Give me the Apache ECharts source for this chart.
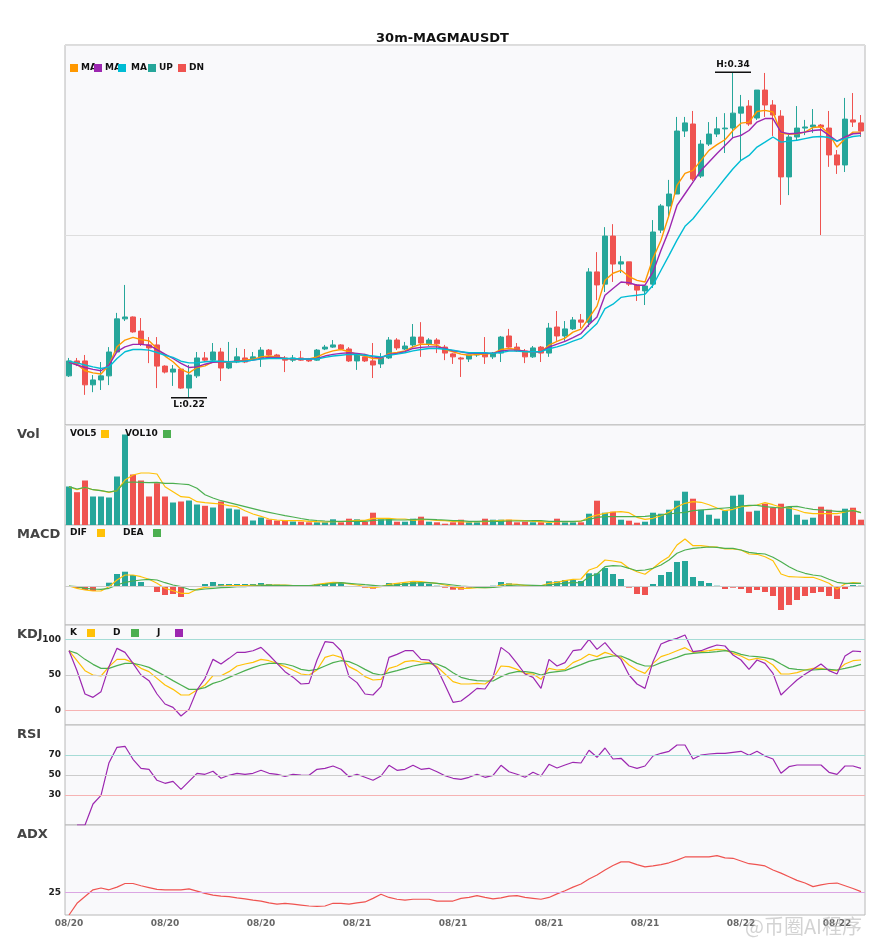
<!DOCTYPE html>
<html>
<head>
<meta charset="utf-8">
<title>30m-MAGMAUSDT</title>
<script src="https://cdn.jsdelivr.net/npm/echarts@6/dist/echarts.min.js"></script>
<style>
  html, body { margin: 0; padding: 0; background: #fff; }
  #chart { width: 885px; height: 950px; }
</style>
</head>
<body>
<div id="chart"></div>
<script>
// 30 minute candles, first one at 08/20 07:30
var startTime = Date.UTC(2025, 7, 20, 7, 30);
var stepMs = 30 * 60 * 1000;
var candleCount = 100;

// [open, close, low, high]
var candles = [
  [0.2281,0.2336,0.2277,0.2347],[0.2336,0.2325,0.2317,0.2347],[0.2336,0.2248,0.2211,0.2358],[0.2248,0.2266,0.2221,0.2284],
  [0.2266,0.2281,0.2229,0.2332],[0.2281,0.2369,0.2247,0.2387],[0.2369,0.2491,0.2365,0.2513],[0.2491,0.2498,0.2483,0.2616],
  [0.2498,0.2443,0.2440,0.2500],[0.2446,0.2398,0.2391,0.2494],[0.2395,0.2384,0.2328,0.2424],[0.2395,0.2317,0.2236,0.2424],
  [0.2317,0.2295,0.2290,0.2320],[0.2295,0.2306,0.2244,0.2321],[0.2306,0.2236,0.2233,0.2310],[0.2236,0.2284,0.2200,0.2321],
  [0.2281,0.2347,0.2273,0.2369],[0.2347,0.2339,0.2332,0.2369],[0.2339,0.2369,0.2336,0.2402],[0.2369,0.2310,0.2262,0.2384],
  [0.2310,0.2328,0.2306,0.2406],[0.2332,0.2351,0.2328,0.2384],[0.2347,0.2332,0.2328,0.2380],[0.2343,0.2351,0.2339,0.2369],
  [0.2347,0.2376,0.2314,0.2387],[0.2376,0.2358,0.2354,0.2380],[0.2358,0.2347,0.2343,0.2362],[0.2347,0.2339,0.2295,0.2354],
  [0.2339,0.2347,0.2332,0.2358],[0.2347,0.2339,0.2336,0.2373],[0.2343,0.2336,0.2332,0.2347],[0.2339,0.2376,0.2336,0.2380],
  [0.2380,0.2387,0.2376,0.2395],[0.2387,0.2395,0.2384,0.2413],[0.2395,0.2380,0.2376,0.2398],[0.2380,0.2336,0.2332,0.2387],
  [0.2336,0.2358,0.2303,0.2365],[0.2351,0.2336,0.2332,0.2362],[0.2336,0.2321,0.2273,0.2402],[0.2325,0.2347,0.2310,0.2365],
  [0.2347,0.2413,0.2343,0.2424],[0.2413,0.2384,0.2376,0.2420],[0.2380,0.2391,0.2376,0.2406],[0.2395,0.2424,0.2387,0.2472],
  [0.2424,0.2402,0.2351,0.2479],[0.2399,0.2413,0.2391,0.2420],[0.2413,0.2399,0.2365,0.2420],[0.2387,0.2365,0.2339,0.2395],
  [0.2362,0.2351,0.2325,0.2365],[0.2347,0.2343,0.2277,0.2351],[0.2343,0.2358,0.2332,0.2358],[0.2358,0.2365,0.2351,0.2369],
  [0.2365,0.2351,0.2325,0.2424],[0.2351,0.2365,0.2343,0.2369],[0.2365,0.2424,0.2332,0.2428],[0.2428,0.2387,0.2384,0.2454],
  [0.2387,0.2373,0.2369,0.2402],[0.2373,0.2351,0.2328,0.2380],[0.2351,0.2384,0.2347,0.2391],[0.2387,0.2365,0.2332,0.2391],
  [0.2365,0.2457,0.2351,0.2476],[0.2461,0.2428,0.2410,0.2520],[0.2428,0.2454,0.2410,0.2483],[0.2454,0.2487,0.2450,0.2498],
  [0.2487,0.2479,0.2457,0.2509],[0.2479,0.2664,0.2461,0.2678],[0.2664,0.2616,0.2560,0.2737],[0.2619,0.2796,0.2590,0.2829],
  [0.2796,0.2693,0.2627,0.2840],[0.2693,0.2701,0.2660,0.2723],[0.2701,0.2619,0.2612,0.2701],[0.2616,0.2597,0.2557,0.2619],
  [0.2594,0.2612,0.2542,0.2616],[0.2619,0.2811,0.2605,0.2855],[0.2818,0.2907,0.2807,0.2914],[0.2907,0.2951,0.2866,0.3003],
  [0.2951,0.3183,0.2951,0.3235],[0.3183,0.3213,0.3161,0.3235],[0.3209,0.3006,0.2999,0.3257],[0.3017,0.3135,0.3010,0.3150],
  [0.3135,0.3172,0.3128,0.3216],[0.3172,0.3191,0.3161,0.3235],[0.3191,0.3194,0.3102,0.3249],[0.3194,0.3249,0.3157,0.3400],
  [0.3249,0.3272,0.3076,0.3316],[0.3275,0.3209,0.3202,0.3297],[0.3231,0.3334,0.3224,0.3334],[0.3334,0.3279,0.3235,0.3397],
  [0.3279,0.3242,0.3165,0.3297],[0.3238,0.3014,0.2911,0.3260],[0.3014,0.3161,0.2947,0.3176],[0.3161,0.3194,0.3150,0.3275],
  [0.3194,0.3198,0.3168,0.3224],[0.3198,0.3205,0.3176,0.3264],[0.3205,0.3198,0.2800,0.3209],[0.3194,0.3095,0.3051,0.3257],
  [0.3095,0.3058,0.3025,0.3113],[0.3058,0.3227,0.3032,0.3305],[0.3224,0.3216,0.3198,0.3323],[0.3213,0.3183,0.3161,0.3242]
];

var ma5 = [
  0.2331,0.2324,0.2300,0.2292,0.2288,0.2321,0.2388,0.2413,0.2423,0.2415,
  0.2410,0.2382,0.2354,0.2333,0.2305,0.2292,0.2312,0.2318,0.2333,0.2333,
  0.2331,0.2335,0.2339,0.2342,0.2351,0.2354,0.2351,0.2345,0.2343,0.2343,
  0.2343,0.2351,0.2364,0.2373,0.2378,0.2370,0.2360,0.2354,0.2345,0.2345,
  0.2364,0.2367,0.2373,0.2388,0.2398,0.2397,0.2394,0.2378,0.2370,0.2361,
  0.2357,0.2360,0.2361,0.2364,0.2378,0.2382,0.2378,0.2370,0.2370,0.2370,
  0.2394,0.2408,0.2420,0.2442,0.2453,0.2495,0.2538,0.2633,0.2659,0.2670,
  0.2647,0.2633,0.2627,0.2714,0.2781,0.2873,0.2983,0.3027,0.3038,0.3075,
  0.3112,0.3133,0.3151,0.3185,0.3212,0.3216,0.3255,0.3259,0.3253,0.3176,
  0.3171,0.3173,0.3179,0.3196,0.3199,0.3173,0.3124,0.3155,0.3179,0.3179
];
var ma10 = [
  0.2331,0.2321,0.2312,0.2305,0.2300,0.2321,0.2370,0.2388,0.2397,0.2397,
  0.2394,0.2378,0.2361,0.2345,0.2327,0.2312,0.2314,0.2324,0.2331,0.2333,
  0.2333,0.2335,0.2335,0.2339,0.2345,0.2349,0.2349,0.2345,0.2344,0.2343,
  0.2343,0.2345,0.2354,0.2360,0.2364,0.2366,0.2364,0.2360,0.2351,0.2347,
  0.2360,0.2364,0.2370,0.2382,0.2386,0.2388,0.2388,0.2382,0.2373,0.2370,
  0.2364,0.2364,0.2364,0.2364,0.2372,0.2376,0.2376,0.2372,0.2370,0.2370,
  0.2387,0.2398,0.2408,0.2422,0.2437,0.2470,0.2498,0.2578,0.2603,0.2627,
  0.2624,0.2615,0.2615,0.2664,0.2744,0.2817,0.2909,0.2952,0.2995,0.3038,
  0.3069,0.3100,0.3130,0.3159,0.3167,0.3185,0.3216,0.3229,0.3229,0.3179,
  0.3173,0.3175,0.3179,0.3185,0.3188,0.3167,0.3146,0.3161,0.3173,0.3175
];
var ma20 = [
  0.2335,0.2329,0.2321,0.2314,0.2308,0.2314,0.2345,0.2370,0.2378,0.2378,
  0.2376,0.2367,0.2357,0.2349,0.2335,0.2329,0.2329,0.2333,0.2335,0.2335,
  0.2333,0.2333,0.2335,0.2339,0.2343,0.2345,0.2345,0.2345,0.2345,0.2343,
  0.2343,0.2343,0.2349,0.2354,0.2357,0.2360,0.2360,0.2357,0.2354,0.2351,
  0.2357,0.2361,0.2366,0.2373,0.2378,0.2382,0.2382,0.2379,0.2376,0.2370,
  0.2366,0.2366,0.2366,0.2364,0.2367,0.2372,0.2372,0.2370,0.2370,0.2370,
  0.2381,0.2388,0.2397,0.2409,0.2419,0.2446,0.2474,0.2529,0.2545,0.2570,
  0.2575,0.2578,0.2582,0.2615,0.2670,0.2725,0.2781,0.2832,0.2860,0.2897,
  0.2934,0.2971,0.3008,0.3044,0.3075,0.3093,0.3124,0.3142,0.3161,0.3142,
  0.3146,0.3149,0.3155,0.3161,0.3163,0.3159,0.3146,0.3155,0.3163,0.3166
];

// volume in thousands
var volume = [
  385,328,445,285,285,275,485,905,505,445, 285,418,285,225,235,245,205,192,175,235,
  165,155,85,45,75,55,45,45,35,33, 27,27,27,57,27,63,57,33,123,57,
  57,33,33,63,83,33,27,13,27,53, 27,27,63,53,53,53,27,33,27,27,
  20,63,27,27,27,113,243,123,133,53, 43,23,33,123,113,153,243,333,263,153,
  103,63,143,293,303,133,143,213,173,213, 183,103,53,73,183,153,93,163,173,53
];
var vol5 = [
  383,353,377,353,343,327,343,450,500,520, 520,510,383,333,283,277,233,223,217,210,
  193,183,143,110,87,60,50,43,43,43, 37,33,30,33,33,40,47,47,67,67,
  67,60,60,47,53,53,47,43,37,30, 30,33,33,40,47,50,47,43,37,33,
  27,33,33,33,38,77,100,117,130,133, 123,77,57,67,93,127,183,217,233,227,
  203,170,143,157,183,190,200,223,203,177, 170,150,123,113,113,113,113,130,150,123
];
var vol10 = [
  383,360,377,353,343,330,343,427,430,427, 423,427,417,417,410,403,367,303,270,243,
  223,203,183,163,143,127,110,93,80,65, 52,45,40,37,37,37,37,37,47,50,
  53,50,50,53,60,57,53,50,43,43, 37,37,40,37,37,40,40,40,43,43,
  37,37,37,37,40,57,77,83,83,83, 83,83,87,93,100,110,120,127,143,150,
  157,163,170,177,190,197,197,183,177,170, 183,187,170,157,150,143,137,137,143,123
];

// MACD values in units of 1e-4
var dif = [
  0,-2.3,-4,-5,-5,-0.7,6,11,11,9.3, 6.7,2.7,-2.3,-4.7,-7.3,-7.3,-3.3,-1.3,-0.7,0,
  0.3,0.3,0.3,0.7,0.7,1,1,1,0.3,0, 0,1.7,2.7,3.7,3.3,2,1,-0.7,-1.7,-0.7,
  1.7,2.7,3.7,4.7,4.3,3.3,2.7,1,-0.7,-2.3, -2.3,-1.7,-1.7,-1.3,1,2,1.7,0.3,0.3,0.3,
  2.7,3.7,5.3,6.7,7,16,18.7,26,25,23.7, 17.7,14.3,11.7,17.7,24.3,29.3,41,47,40.3,40.3,
  39.3,39,37,37,36,32,31.7,29.3,25.3,12, 9.3,9,8.7,8.7,6,2.7,-3,2,3.3,2.7
];
var dea = [
  0,-0.7,-2.3,-3,-3.3,-2.3,1,3.7,5,6, 6.7,6,3.3,1,-0.7,-3.3,-4,-3,-2.3,-1.7,
  -1.3,-0.7,-0.7,0,0.3,0.7,0.7,0.7,0.3,0.3, 0.3,1,1.7,2.7,3.3,2.7,2,1.3,0.7,0,
  0.3,1,2,2.7,3.3,3.3,2.7,2,1,0, -0.7,-1.3,-1.7,-1.3,-0.7,0.3,1,1,0.7,0.3,
  1,2,2.7,3.7,3,9.3,12,19.3,20.3,20, 17.7,15.3,16,17.7,21,26,32.7,36,37.7,38.3,
  39,38.7,37.7,37.7,36,33.7,32.7,32,28.7,24.3, 19.3,15.3,12.7,11,10,6.7,3.7,2.7,2.7,2.7
];
var macdHist = [
  0,-2,-4,-5,-1,3.3,12,14.3,11,4, 0,-6,-9,-8,-11,-0.5,-0.7,2,4,2,
  2,2,2,2,3,2,1.3,1,1,0.5, 0.5,2,2.7,3.3,3.3,-0.7,-0.7,-1.7,-2.7,-0.3,
  3,3,3,4.3,3.7,2.3,0.3,-1.7,-3.7,-3.7, -1.7,-0.3,-1.3,0.3,4,2.7,0.3,-0.3,0.3,0.3,
  4.7,4.7,6,6,5,12.7,12.7,18,12,7, -1.7,-8,-9,2,11,14,24,25,9,5,
  3,0.3,-3,-1.7,-3,-7,-4,-6,-10,-24, -19,-14,-10,-7,-6,-10,-13,-3,1,0.3
];

var kLine = [
  84,70,56,50,48.6,61.7,71.9,71.9,67.3,59.3, 54.7,45.3,36,29.9,22,22,29,36,49,49,
  54.7,62.6,65.4,67.7,71.9,70,66.3,61.7,57,51.4, 50,57,74.7,78,74.7,61.7,56.1,47.7,43,43.9,
  59.3,62.6,68.7,70,68.2,67.3,61.7,51.4,40.7,37.4, 37.4,38.3,37.4,45.3,62.6,61.7,57.9,52.3,51.4,43.9,
  59.3,57,57.9,67.3,72,79,75.7,81.7,78,74.7, 64,57,52.3,66.3,75.7,79.4,84,88.3,81.7,82.7,
  84,85.9,85,80.3,76.6,71,73.3,71,64,51.4, 51.4,53.3,57,59.3,59.3,57,56.1,65.4,70,71
];
var dLine = [
  84,80.3,71.9,64.9,59.3,59.3,63.1,66.3,66.3,64, 60.7,54.7,48.6,42.1,36,29.9,29.9,32.3,38.3,41.6,
  46.7,51.4,56.1,60.3,64,66.3,66.3,65.4,62.6,57.9, 56.1,57.9,62.6,67.3,70,68.7,64,57.9,52.3,50,
  53.3,56.1,59.3,62.6,64.9,66.3,65.4,60.7,53.3,46.7, 43.9,42.1,41.6,41.6,47.7,52.3,54.7,54.7,53.3,50,
  53.3,54.7,56.1,60.3,64.5,69,71.9,74.7,76.6,76.6, 71.9,66.3,62.6,62.6,67.3,71,74.7,78.9,80.3,81.3,
  81.7,82.7,84,82.7,78.9,76.6,75.7,74.3,71.9,65.4, 59.3,57.9,57,57,57.9,57.9,57,59.3,61.7,64.9
];
var jLine = [
  84,56,23.4,18.7,26.7,61.7,87.3,81.7,66.3,50, 42.1,23.4,9.4,4.7,-7.4,1.9,29,45.3,71.9,65.4,
  73.3,81.7,81.7,84,88.7,78,66.3,54.7,47,37.4, 38.3,71,96.7,95.3,84,47.7,39.3,23.4,22,33.7,
  74.7,78.9,84,84,71.9,71,59.3,36,11.7,13.6, 22,31.3,30.4,46.7,88.7,80.3,66.3,51.4,46.7,31.3,
  71.9,62.6,67.3,84,85.5,99.9,85.9,95.3,81.7,71.9, 50,37.4,31.3,68.7,93.4,98.1,101.3,106,82.7,84,
  88.3,92,90.6,78,71,57.9,71,66.3,52.3,22, 32.7,43,50.9,57.9,65.4,56.1,51.4,76.6,83.6,82.7
];

var rsi = [
  null,0,0,21,29.7,62.3,77.7,78.7,65.7,56.7, 55.7,44.7,41.7,43.7,35.7,43.7,51.7,50.7,53.7,46.7,
  49.7,51.7,50.7,51.7,54.7,51.7,50.7,48.7,50.7,50, 49.7,55.7,56.7,59,55.7,48.3,50.7,47.7,44.7,49,
  59.7,54.7,55.7,59.7,55.7,56.7,53.3,49.3,46.7,45.7, 47.7,50.7,47.7,49.7,59.7,53.3,50.7,47.7,52.7,49,
  60.7,57,60,62.7,62,74.7,67.7,77,66,66.7, 59,56.7,59,69,71.7,73.7,80,80,66,70,
  71,71.7,71.7,72.7,73.7,69.7,73.7,69,66,51.7, 58.3,60,60,60,60,52.7,50.7,59,59,56.7
];

var adx = [
  20,22.6,24.1,25.6,26,25.6,26.2,27,27,26.5, 26.1,25.7,25.6,25.6,25.6,25.8,25.3,24.8,24.4,24.2,
  24.1,23.8,23.6,23.3,23.1,22.7,22.4,22.6,22.4,22.2, 22,21.9,22,22.6,22.6,22.4,22.7,22.9,23.7,24.6,
  23.9,23.5,23.3,23.5,23.5,23.5,23.1,23.1,23.1,23.7, 23.9,24.3,23.9,23.6,23.8,24.2,24.3,23.9,23.7,23.5,
  23.9,24.7,25.4,26.2,26.9,28,28.9,30,31,31.8, 31.8,31.2,30.7,30.9,31.2,31.6,32.2,32.9,32.9,32.9,
  32.9,33.2,32.7,32.6,32,31.4,31.2,30.9,30,29.3, 28.5,27.7,27.1,26.3,26.7,27,27.1,26.5,25.9,25.2
];

var kdjTicks = [0, 50, 100];
var rsiTicks = [30, 50, 70];
var adxTicks = [25];

var UP = '#26a69a';
var DOWN = '#ef5350';
var FONT = 'DejaVu Sans';

function pad(n) {
  return n < 10 ? '0' + n : '' + n;
}

var categories = [];
for (var i = 0; i < candleCount; i += 1) {
  var d = new Date(startTime + i * stepMs);
  categories.push(pad(d.getUTCMonth() + 1) + '/' + pad(d.getUTCDate()) + ' ' +
    pad(d.getUTCHours()) + ':' + pad(d.getUTCMinutes()));
}

var hiIdx = 0;
var loIdx = 0;
candles.forEach(function (c, idx) {
  if (c[3] > candles[hiIdx][3]) hiIdx = idx;
  if (c[2] < candles[loIdx][2]) loIdx = idx;
});
var hiVal = candles[hiIdx][3];
var loVal = candles[loIdx][2];

var panels = [
  { top: 45, height: 380 },
  { top: 425, height: 100 },
  { top: 525, height: 100 },
  { top: 625, height: 100 },
  { top: 725, height: 100 },
  { top: 825, height: 90 }
];

var grids = panels.map(function (p) {
  return {
    left: 65,
    right: 20,
    top: p.top,
    height: p.height,
    show: true,
    backgroundColor: '#f9f9fb',
    borderColor: '#b8b8b8',
    borderWidth: 1
  };
});

var xAxes = panels.map(function (p, idx) {
  var last = idx === panels.length - 1;
  return {
    type: 'category',
    gridIndex: idx,
    data: categories,
    boundaryGap: true,
    axisLine: { show: false },
    axisTick: { show: false },
    splitLine: { show: false },
    axisLabel: {
      show: last,
      interval: 11,
      margin: 4,
      color: '#666',
      fontWeight: 'bold',
      fontSize: 9,
      fontFamily: FONT,
      formatter: function (v) { return v.slice(0, 5); }
    }
  };
});

function plainY(idx, min, max) {
  return {
    type: 'value',
    gridIndex: idx,
    min: min,
    max: max,
    axisLine: { show: false },
    axisTick: { show: false },
    axisLabel: { show: false },
    splitLine: { show: false }
  };
}

function tickY(idx, min, max, ticks) {
  var axis = plainY(idx, min, max);
  axis.axisLabel = {
    show: true,
    customValues: ticks,
    margin: 4,
    color: '#222',
    fontWeight: 'bold',
    fontSize: 9,
    fontFamily: FONT
  };
  return axis;
}

var priceAxis = plainY(0, 0.21, 0.35);
priceAxis.interval = 0.07;
priceAxis.splitLine = { show: true, lineStyle: { color: '#dedede', width: 1 } };

var yAxes = [
  priceAxis,
  plainY(1, 0, 1000),
  plainY(2, -39, 61),
  tickY(3, -20, 120, kdjTicks),
  tickY(4, 0, 100, rsiTicks),
  tickY(5, 20, 40, adxTicks)
];

function line(name, data, color, axis, width) {
  return {
    name: name,
    type: 'line',
    data: data,
    xAxisIndex: axis,
    yAxisIndex: axis,
    showSymbol: false,
    symbol: 'none',
    connectNulls: false,
    lineStyle: { color: color, width: width || 1.3 },
    itemStyle: { color: color },
    z: 3
  };
}

function levels(list) {
  return {
    silent: true,
    symbol: 'none',
    label: { show: false },
    data: list.map(function (l) {
      return { yAxis: l[0], lineStyle: { color: l[1], width: 1, type: 'solid' } };
    })
  };
}

var series = [];

series.push({
  name: 'K',
  type: 'candlestick',
  data: candles,
  xAxisIndex: 0,
  yAxisIndex: 0,
  barWidth: 6,
  itemStyle: { color: UP, color0: DOWN, borderColor: UP, borderColor0: DOWN, borderWidth: 1 },
  markPoint: {
    silent: true,
    symbol: 'rect',
    symbolSize: [36, 1.5],
    itemStyle: { color: '#111' },
    label: { show: true, color: '#111', fontWeight: 'bold', fontSize: 9, fontFamily: FONT },
    data: [
      { coord: [hiIdx, hiVal], label: { position: 'top', distance: 2, formatter: 'H:' + hiVal.toFixed(2) } },
      { coord: [loIdx, loVal], label: { position: 'bottom', distance: 2, formatter: 'L:' + loVal.toFixed(2) } }
    ]
  }
});
series.push(line('MA5', ma5, '#ff9800', 0, 1.4));
series.push(line('MA10', ma10, '#9c27b0', 0, 1.4));
series.push(line('MA20', ma20, '#00bcd4', 0, 1.4));

series.push({
  name: 'Vol',
  type: 'bar',
  data: volume,
  xAxisIndex: 1,
  yAxisIndex: 1,
  barWidth: 6,
  itemStyle: {
    color: function (p) {
      var c = candles[p.dataIndex];
      return c[1] >= c[0] ? UP : DOWN;
    }
  }
});
series.push(line('VOL5', vol5, '#ffc107', 1, 1.2));
series.push(line('VOL10', vol10, '#4caf50', 1, 1.2));

series.push({
  name: 'MACD',
  type: 'bar',
  data: macdHist,
  xAxisIndex: 2,
  yAxisIndex: 2,
  barWidth: 6,
  itemStyle: {
    color: function (p) { return p.value >= 0 ? UP : DOWN; }
  },
  markLine: levels([[0, '#cccccc']])
});
series.push(line('DIF', dif, '#ffc107', 2, 1.2));
series.push(line('DEA', dea, '#4caf50', 2, 1.2));

var kSeries = line('K', kLine, '#ffc107', 3, 1.2);
kSeries.markLine = levels([[100, '#a6dcd6'], [50, '#cccccc'], [0, '#f6b3b3']]);
series.push(kSeries);
series.push(line('D', dLine, '#4caf50', 3, 1.2));
series.push(line('J', jLine, '#9c27b0', 3, 1.2));

var rsiSeries = line('RSI', rsi, '#9c27b0', 4, 1.2);
rsiSeries.markLine = levels([[70, '#a6dcd6'], [50, '#cccccc'], [30, '#f6b3b3']]);
series.push(rsiSeries);

var adxSeries = line('ADX', adx, '#ef5350', 5, 1.2);
adxSeries.markLine = levels([[25, '#dba6e3']]);
series.push(adxSeries);

// panel names and small legends
var graphics = [];
[['Vol', 435], ['MACD', 535], ['KDJ', 635], ['RSI', 735], ['ADX', 835]].forEach(function (t) {
  graphics.push({
    type: 'text',
    style: { text: t[0], x: 17, y: t[1], verticalAlign: 'middle', fill: '#444', font: 'bold 13px "DejaVu Sans"' }
  });
});

function legendRow(y, items) {
  items.forEach(function (it) {
    graphics.push({
      type: 'text',
      z: 10,
      style: { text: it[0], x: it[1], y: y, verticalAlign: 'middle', fill: '#111', font: 'bold 9px "DejaVu Sans"' }
    });
  });
  items.forEach(function (it) {
    graphics.push({
      type: 'rect',
      z: 11,
      shape: { x: it[2], y: y - 4, width: 8, height: 8 },
      style: { fill: it[3] }
    });
  });
}
legendRow(68, [['MA', 81, 70, '#ff9800'], ['MA', 105, 94, '#9c27b0'], ['MA', 131, 118, '#00bcd4'], ['UP', 159, 148, UP], ['DN', 189, 178, DOWN]]);
legendRow(434, [['VOL5', 70, 101, '#ffc107'], ['VOL10', 125, 163, '#4caf50']]);
legendRow(533, [['DIF', 70, 97, '#ffc107'], ['DEA', 123, 153, '#4caf50']]);
legendRow(633, [['K', 70, 87, '#ffc107'], ['D', 113, 131, '#4caf50'], ['J', 157, 175, '#9c27b0']]);

graphics.push({
  type: 'text',
  z: 20,
  style: {
    text: '@币圈AI程序',
    x: 745,
    y: 926,
    verticalAlign: 'middle',
    fill: 'rgba(175,175,175,0.55)',
    font: '20px "Noto Sans CJK SC"'
  }
});

var chart = echarts.init(document.getElementById('chart'), null, { renderer: 'canvas' });
chart.setOption({
  animation: false,
  backgroundColor: '#fff',
  title: {
    text: '30m-MAGMAUSDT',
    left: 'center',
    top: 27,
    textStyle: { fontSize: 13, fontWeight: 'bold', color: '#111', fontFamily: FONT }
  },
  graphic: graphics,
  grid: grids,
  xAxis: xAxes,
  yAxis: yAxes,
  series: series
});
</script>
</body>
</html>
